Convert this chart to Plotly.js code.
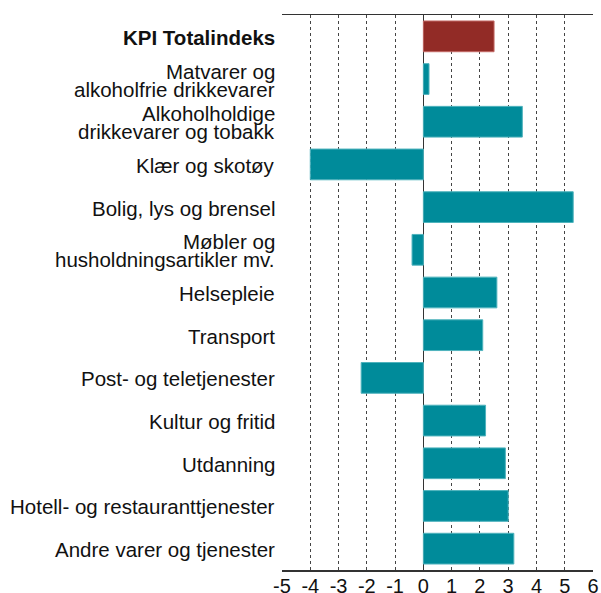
<!DOCTYPE html>
<html>
<head>
<meta charset="utf-8">
<script src="https://cdn.plot.ly/plotly-3.0.1.min.js"></script>
<style>html,body{margin:0;padding:0;background:#fff;}#chart{width:601px;height:593px;}</style>
</head>
<body>
<div id="chart"></div>
<script>
const categories = [
  "KPI Totalindeks",
  "Matvarer og<br>alkoholfrie drikkevarer",
  "Alkoholholdige<br>drikkevarer og tobakk",
  "Klær og skotøy",
  "Bolig, lys og brensel",
  "Møbler og<br>husholdningsartikler mv.",
  "Helsepleie",
  "Transport",
  "Post- og teletjenester",
  "Kultur og fritid",
  "Utdanning",
  "Hotell- og restauranttjenester",
  "Andre varer og tjenester"
];
const values = [2.5, 0.2, 3.5, -4.0, 5.3, -0.4, 2.6, 2.1, -2.2, 2.2, 2.9, 3.0, 3.2];
const tickVals = [-5, -4, -3, -2, -1, 0, 1, 2, 3, 4, 5, 6];
const totalColor = "#922b26";
const groupColor = "#008b9a";
const totalEdge = "#c46a66";
const groupEdge = "#4fb3bd";

const ids = categories.map((c, i) => "c" + i);
const colors = categories.map((c, i) => i === 0 ? totalColor : groupColor);
const edges = categories.map((c, i) => i === 0 ? totalEdge : groupEdge);

const annotations = [];
categories.forEach((c, i) => {
  const lines = c.split("<br>");
  const n = lines.length;
  lines.forEach((ln, j) => {
    annotations.push({
      xref: "paper", yref: "y", x: 0, y: ids[i],
      xanchor: "right", yanchor: "middle", xshift: -5,
      yshift: (n - 1) * 9 - j * 18 - 1,
      text: i === 0 ? "<b>" + ln + "</b>" : ln,
      showarrow: false,
      font: {family: "Liberation Sans, Arial, sans-serif", size: 20.5, color: "#111"}
    });
  });
});

const trace = {
  type: "bar", orientation: "h",
  x: values, y: ids,
  marker: {color: colors, line: {color: edges, width: 1}},
  hoverinfo: "x"
};

const layout = {
  width: 601, height: 593,
  margin: {l: 282, r: 8, t: 15, b: 23},
  paper_bgcolor: "#fff", plot_bgcolor: "#fff",
  bargap: 0.28,
  showlegend: false,
  font: {family: "Liberation Sans, Arial, sans-serif", color: "#111"},
  xaxis: {
    range: [-5, 6], tickvals: tickVals, ticktext: tickVals.map(String),
    tickfont: {size: 20, color: "#111"},
    ticklabelstandoff: -3,
    showgrid: true, gridcolor: "#444", griddash: "dot", gridwidth: 1,
    zeroline: true, zerolinecolor: "#333", zerolinewidth: 1.5,
    showline: true, linecolor: "#333", linewidth: 1.5, mirror: true,
    ticks: "", fixedrange: true
  },
  yaxis: {
    type: "category", autorange: "reversed",
    showticklabels: false, showgrid: false, zeroline: false, showline: false,
    ticks: "", fixedrange: true
  },
  annotations: annotations
};

Plotly.newPlot("chart", [trace], layout, {displayModeBar: false, staticPlot: true});
</script>
</body>
</html>
